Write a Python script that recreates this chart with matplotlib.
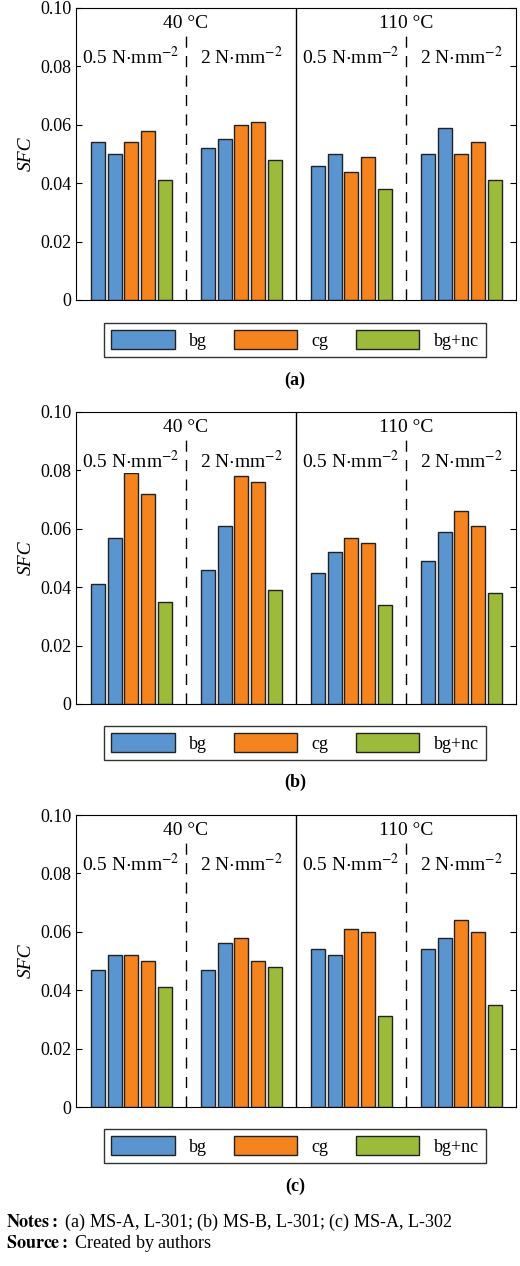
import matplotlib
matplotlib.use("Agg")
import matplotlib.pyplot as plt
from matplotlib.patches import Patch
import numpy as np

plt.rcParams['font.family'] = ['Liberation Serif', 'DejaVu Serif']
plt.rcParams['mathtext.fontset'] = 'stix'

colors_bar = ['#5b95d0', '#5b95d0', '#f5841f', '#f5841f', '#9dbb3a']
panel_a = [[0.054, 0.050, 0.054, 0.058, 0.041],
           [0.052, 0.055, 0.060, 0.061, 0.048],
           [0.046, 0.050, 0.044, 0.049, 0.038],
           [0.050, 0.059, 0.050, 0.054, 0.041]]
panel_b = [[0.041, 0.057, 0.079, 0.072, 0.035],
           [0.046, 0.061, 0.078, 0.076, 0.039],
           [0.045, 0.052, 0.057, 0.055, 0.034],
           [0.049, 0.059, 0.066, 0.061, 0.038]]
panel_c = [[0.047, 0.052, 0.052, 0.050, 0.041],
           [0.047, 0.056, 0.058, 0.050, 0.048],
           [0.054, 0.052, 0.061, 0.060, 0.031],
           [0.054, 0.058, 0.064, 0.060, 0.035]]
panels = [panel_a, panel_b, panel_c]
panel_labels = ['(a)', '(b)', '(c)']
temps = ['40 °C', '110 °C']
loads = [r'0.5 N$\cdot$mm$^{-2}$', r'2 N$\cdot$mm$^{-2}$']
yticks = [0, 0.02, 0.04, 0.06, 0.08, 0.10]
ytick_labels = ['0', '0.02', '0.04', '0.06', '0.08', '0.10']
legend_labels = ['bg', 'cg', 'bg+nc']

W, H = 520, 1266
fig = plt.figure(figsize=(W/100, H/100), dpi=100)

ax_tops = [8, 412, 815]
leg_tops = [322, 725, 1128]
lab_y = [380, 782, 1186]
for p in range(3):
    top = ax_tops[p]
    ax = fig.add_axes([76/W, 1-(top+292)/H, 440/W, 292/H])
    data = panels[p]
    for s in range(4):
        for j in range(5):
            x = s + 0.136 + j*0.152
            ax.bar(x, data[s][j], width=0.127, align='edge', color=colors_bar[j],
                   edgecolor='#222222', linewidth=1.0)
    ax.set_xlim(0, 4)
    ax.set_ylim(0, 0.10)
    ax.set_yticks(yticks)
    ax.set_yticklabels(ytick_labels, fontsize=13)
    ax.tick_params(axis='y', direction='in', right=True, length=4)
    ax.set_xticks([])
    ax.set_ylabel('SFC', fontsize=14, style='italic')
    ax.axvline(2, color='black', linewidth=1.0)
    for xv in [1, 3]:
        ax.axvline(xv, color='black', linewidth=1.0, linestyle=(0, (8, 6)))
    for t in range(2):
        ax.text(2*t+1, 0.0975, temps[t], ha='center', va='top', fontsize=14,
                bbox=dict(facecolor='white', edgecolor='none', pad=0.5))
        for l in range(2):
            ax.text(2*t+l+0.5, 0.087, loads[l], ha='center', va='top', fontsize=14,
                    bbox=dict(facecolor='white', edgecolor='none', pad=0.5))
    handles = [Patch(facecolor=colors_bar[0], edgecolor='#222222'),
               Patch(facecolor=colors_bar[2], edgecolor='#222222'),
               Patch(facecolor=colors_bar[4], edgecolor='#222222')]
    lt = leg_tops[p]
    fig.legend(handles, legend_labels, ncol=3, loc='center',
               bbox_to_anchor=(295/W, 1-(lt+18)/H), fontsize=13, frameon=True,
               fancybox=False, edgecolor='black', handlelength=3.5, handleheight=1.2,
               columnspacing=1.5, borderpad=0.4)
    fig.text(295/W, 1-lab_y[p]/H, panel_labels[p], ha='center', va='center',
             fontsize=13, fontweight='bold')

fig.text(6/W, 1-1222/H, r'$\bf{Notes:}$ (a) MS-A, L-301; (b) MS-B, L-301; (c) MS-A, L-302',
         ha='left', va='center', fontsize=13)
fig.text(6/W, 1-1244/H, r'$\bf{Source:}$ Created by authors', ha='left', va='center', fontsize=13)

fig.savefig('out.png', dpi=100)
